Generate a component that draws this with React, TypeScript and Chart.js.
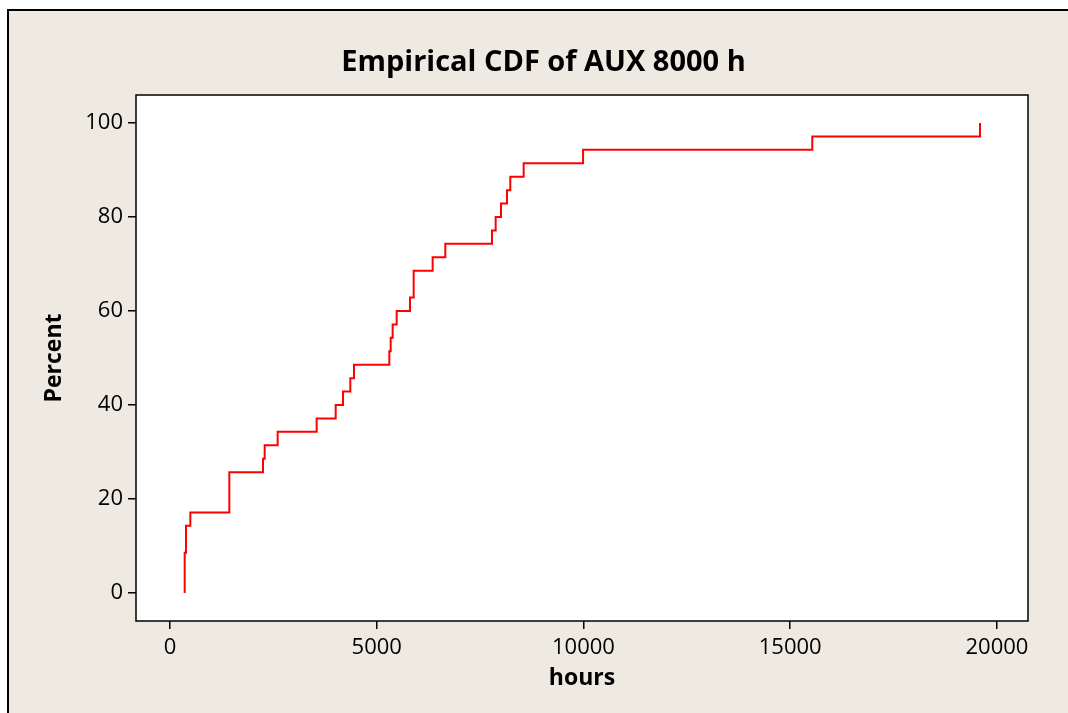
import React, { useEffect, useRef } from "react";
import { Chart, registerables } from "chart.js";

Chart.register(...registerables);

// Empirical CDF steps: hours at which the CDF jumps, and the percent reached there
const hours = [
  355, 355, 387, 492, 1435, 2249, 2290, 2604, 3547, 4007, 4184, 4361, 4450,
  5304, 5337, 5385, 5482, 5804, 5893, 6352, 6658, 7787, 7876, 8005, 8150,
  8230, 8553, 9990, 15533, 19589,
];
const percent = [
  0, 8.57, 14.29, 17.14, 25.71, 28.57, 31.43, 34.29, 37.14, 40.0, 42.86,
  45.71, 48.57, 51.43, 54.29, 57.14, 60.0, 62.86, 68.57, 71.43, 74.29, 77.14,
  80.0, 82.86, 85.71, 88.57, 91.43, 94.29, 97.14, 100,
];
const xTicks = [0, 5000, 10000, 15000, 20000];
const yTicks = [0, 20, 40, 60, 80, 100];

const titleText = "Empirical CDF of AUX 8000 h";
const xLabel = "hours";
const yLabel = "Percent";

const BG = "#EEEAE1";

export default function App() {
  const ref = useRef<HTMLCanvasElement | null>(null);

  useEffect(() => {
    if (!ref.current) return;
    const framePlugin = {
      id: "frame",
      beforeDraw(chart: any) {
        const { ctx, width, height, chartArea } = chart;
        ctx.save();
        ctx.fillStyle = "#ffffff";
        ctx.fillRect(0, 0, width, height);
        ctx.fillStyle = BG;
        ctx.fillRect(7, 9, width + 10, height + 10);
        ctx.strokeStyle = "#000000";
        ctx.lineWidth = 2;
        ctx.beginPath();
        ctx.moveTo(8, height + 5);
        ctx.lineTo(8, 10);
        ctx.lineTo(width + 5, 10);
        ctx.stroke();
        ctx.fillStyle = "#ffffff";
        ctx.fillRect(
          chartArea.left,
          chartArea.top,
          chartArea.right - chartArea.left,
          chartArea.bottom - chartArea.top
        );
        ctx.restore();
      },
      afterDraw(chart: any) {
        const { ctx, chartArea } = chart;
        ctx.save();
        ctx.strokeStyle = "#000000";
        ctx.lineWidth = 1.5;
        ctx.strokeRect(
          chartArea.left,
          chartArea.top,
          chartArea.right - chartArea.left,
          chartArea.bottom - chartArea.top
        );
        ctx.fillStyle = "#000000";
        ctx.font = 'bold 29px "Open Sans"';
        ctx.textAlign = "center";
        ctx.textBaseline = "alphabetic";
        ctx.fillText(titleText, 543.5, 71);
        ctx.restore();
      },
    };

    const data = hours.map((h, i) => ({ x: h, y: percent[i] }));

    const chart = new Chart(ref.current, {
      type: "scatter",
      data: {
        datasets: [
          {
            data,
            showLine: true,
            stepped: "before",
            borderColor: "#ff0000",
            borderWidth: 2,
            pointRadius: 0,
            fill: false,
          },
        ],
      },
      options: {
        animation: false,
        responsive: false,
        devicePixelRatio: 1,
        layout: { padding: { left: 0, right: 40, top: 95, bottom: 0 } },
        plugins: {
          legend: { display: false },
          title: { display: false },
          tooltip: { enabled: false },
        },
        scales: {
          x: {
            type: "linear",
            min: -822,
            max: 20750,
            afterFit(scale: any) {
              scale.height = 92;
            },
            afterBuildTicks(scale: any) {
              scale.ticks = xTicks.map((v) => ({ value: v }));
            },
            grid: {
              drawOnChartArea: false,
              drawTicks: true,
              tickLength: 8,
              color: "#000000",
              lineWidth: 1.5,
            },
            border: { display: false },
            ticks: {
              color: "#000000",
              font: { family: "Open Sans", size: 22 },
              padding: 6,
              maxRotation: 0,
              autoSkip: false,
              callback: (v: any) => String(v),
            },
            title: {
              display: true,
              text: xLabel,
              color: "#000000",
              font: { family: "Open Sans", size: 23, weight: "bold" },
              padding: { top: 0, bottom: 21 },
            },
          },
          y: {
            type: "linear",
            min: -5.96,
            max: 105.96,
            afterFit(scale: any) {
              scale.width = 136;
            },
            afterBuildTicks(scale: any) {
              scale.ticks = yTicks.map((v) => ({ value: v }));
            },
            grid: {
              drawOnChartArea: false,
              drawTicks: true,
              tickLength: 8,
              color: "#000000",
              lineWidth: 1.5,
            },
            border: { display: false },
            ticks: {
              color: "#000000",
              font: { family: "Open Sans", size: 22 },
              padding: 5,
              autoSkip: false,
              callback: (v: any) => String(v),
            },
            title: {
              display: true,
              text: yLabel,
              color: "#000000",
              font: { family: "Open Sans", size: 23, weight: "bold" },
              padding: { top: 41, bottom: 0 },
            },
          },
        },
      },
      plugins: [framePlugin],
    });
    return () => chart.destroy();
  }, []);

  return (
    <div style={{ position: "absolute", left: 0, top: 0, width: 1068, height: 713 }}>
      <canvas ref={ref} width={1068} height={713} style={{ display: "block" }} />
    </div>
  );
}
